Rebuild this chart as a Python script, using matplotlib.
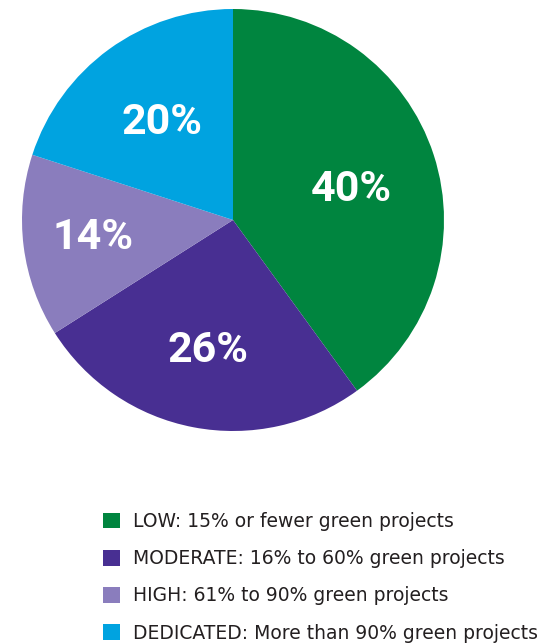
import matplotlib
matplotlib.use("Agg")
import matplotlib.pyplot as plt
import numpy as np

categories = ["LOW: 15% or fewer green projects",
              "MODERATE: 16% to 60% green projects",
              "HIGH: 61% to 90% green projects",
              "DEDICATED: More than 90% green projects"]
values = [40, 26, 14, 20]
pct_labels = ["40%", "26%", "14%", "20%"]
colors = ["#00853F", "#482F92", "#8A7DBD", "#00A3E0"]
label_radii = [0.58, 0.63, 0.67, 0.57]
label_angle_shift = [-3.5, 0, 0, 0]

W, H = 547, 643
fig = plt.figure(figsize=(W / 100, H / 100), dpi=100)
cx, cy, r = 233, 220, 211
ax = fig.add_axes([(cx - r) / W, (H - cy - r) / H, 2 * r / W, 2 * r / H])
wedges, _ = ax.pie(values, colors=colors, startangle=90, counterclock=False,
                   radius=1.0, wedgeprops=dict(linewidth=0))
ax.set_xlim(-1, 1)
ax.set_ylim(-1, 1)
ax.set_aspect("equal")
ax.axis("off")

for w, lab, rr, sh in zip(wedges, pct_labels, label_radii, label_angle_shift):
    ang = np.deg2rad((w.theta1 + w.theta2) / 2 + sh)
    ax.text(rr * np.cos(ang), rr * np.sin(ang), lab, ha="center", va="center",
            color="white", fontsize=31, fontweight="bold",
            family=["Roboto", "DejaVu Sans"])

leg = fig.legend(wedges, categories, loc="upper left",
                 bbox_to_anchor=(103 / W, 1 - 512 / H), frameon=False,
                 fontsize=13.5, handlelength=0.9, handleheight=0.9,
                 handletextpad=0.7, labelspacing=0.97, borderpad=0,
                 borderaxespad=0)
for t in leg.get_texts():
    t.set_color("#231F20")

fig.savefig("out.png", dpi=100)
